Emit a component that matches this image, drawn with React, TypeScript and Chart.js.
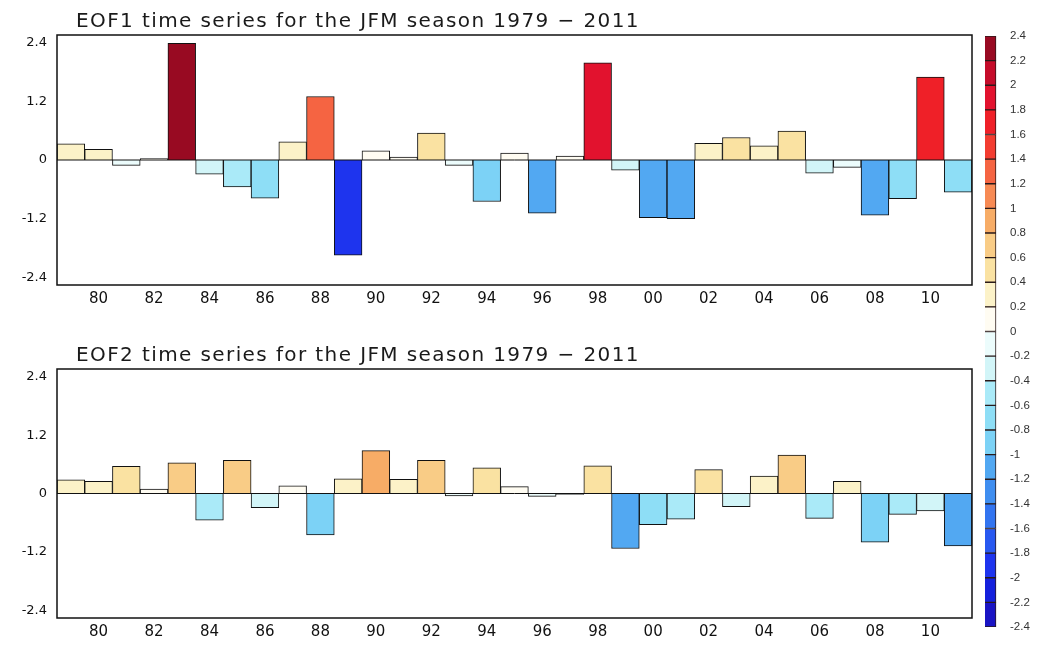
import React, { useEffect, useRef } from 'react';
import { Chart, registerables } from 'chart.js';

Chart.register(...registerables);

const years = [
  1979, 1980, 1981, 1982, 1983, 1984, 1985, 1986, 1987, 1988, 1989,
  1990, 1991, 1992, 1993, 1994, 1995, 1996, 1997, 1998, 1999, 2000,
  2001, 2002, 2003, 2004, 2005, 2006, 2007, 2008, 2009, 2010, 2011,
];

const eof1 = [
  0.33, 0.22, -0.11, 0.03, 2.39, -0.29, -0.55, -0.78, 0.37, 1.3, -1.95,
  0.19, 0.06, 0.55, -0.11, -0.85, 0.14, -1.09, 0.08, 1.99, -0.21, -1.18,
  -1.2, 0.34, 0.46, 0.29, 0.59, -0.27, -0.15, -1.13, -0.79, 1.7, -0.66,
];

const eof2 = [
  0.28, 0.25, 0.56, 0.09, 0.63, -0.55, 0.68, -0.29, 0.16, -0.85, 0.3,
  0.88, 0.29, 0.68, -0.05, 0.53, 0.14, -0.06, -0.02, 0.57, -1.13, -0.64,
  -0.53, 0.49, -0.27, 0.36, 0.79, -0.51, 0.25, -1.0, -0.43, -0.36, -1.08,
];

const xTickYears = [1980, 1982, 1984, 1986, 1988, 1990, 1992, 1994, 1996, 1998, 2000, 2002, 2004, 2006, 2008, 2010];
const yTickValues = [-2.4, -1.2, 0, 1.2, 2.4];

const levels = [
  -2.4, -2.2, -2.0, -1.8, -1.6, -1.4, -1.2, -1.0, -0.8, -0.6, -0.4, -0.2, 0,
  0.2, 0.4, 0.6, 0.8, 1.0, 1.2, 1.4, 1.6, 1.8, 2.0, 2.2, 2.4,
];

const levelColors = [
  '#1a14c4', '#1420dc', '#1e34ee', '#2858f0', '#3274f0', '#3f8ef0',
  '#52a8f2', '#7cd2f6', '#8edef6', '#aaeaf8', '#d2f5f8', '#ecfcfc',
  '#fffcf2', '#fcf2c8', '#fae2a2', '#f9cc86', '#f7ac66', '#f78a54',
  '#f56442', '#f33c30', '#ef2028', '#e2122e', '#c50c2a', '#980a22',
];

function colorFor(v: number): string {
  let i = Math.floor((v - levels[0]) / 0.2 + 1e-9);
  if (i < 0) i = 0;
  if (i > levelColors.length - 1) i = levelColors.length - 1;
  return levelColors[i];
}

const FONT = '"DejaVu Sans", "Liberation Sans", sans-serif';

const framePlugin = {
  id: 'frameAndTitle',
  afterDatasetsDraw(chart: any, _args: any, opts: any) {
    const { ctx, chartArea: a } = chart;
    const y0 = chart.scales.y.getPixelForValue(0);
    ctx.save();
    ctx.strokeStyle = '#111';
    ctx.lineWidth = 1;
    ctx.beginPath();
    ctx.moveTo(a.left, y0);
    ctx.lineTo(a.right, y0);
    ctx.stroke();
    ctx.lineWidth = 1.5;
    ctx.strokeRect(a.left, a.top, a.right - a.left, a.bottom - a.top);
    if (opts && opts.text) {
      ctx.fillStyle = '#1a1a1a';
      ctx.font = `20px ${FONT}`;
      ctx.textBaseline = 'alphabetic';
      ctx.textAlign = 'left';
      (ctx as any).letterSpacing = '1.4px';
      ctx.fillText(opts.text, opts.x, opts.y);
    }
    ctx.restore();
  },
};

function makeBarChart(canvas: HTMLCanvasElement, values: number[], title: string, padTop: number, xAxisH: number, titleY: number) {
  return new Chart(canvas, {
    type: 'bar',
    data: {
      datasets: [
        {
          data: years.map((yr, i) => ({ x: yr, y: values[i] })),
          backgroundColor: values.map(colorFor),
          borderColor: '#111',
          borderWidth: 1,
          barPercentage: 1,
          categoryPercentage: 1,
        } as any,
      ],
    },
    options: {
      responsive: false,
      animation: false,
      devicePixelRatio: 1,
      layout: { padding: { top: padTop, left: 0, right: 8, bottom: 0 } },
      plugins: {
        legend: { display: false },
        tooltip: { enabled: false },
        frameAndTitle: { text: title, x: 76, y: titleY },
      } as any,
      scales: {
        x: {
          type: 'linear',
          offset: false,
          min: 1978.5,
          max: 2011.5,
          afterBuildTicks: (s: any) => {
            s.ticks = xTickYears.map((v) => ({ value: v }));
          },
          afterFit: (s: any) => {
            s.height = xAxisH;
          },
          ticks: {
            autoSkip: false,
            maxRotation: 0,
            padding: 5,
            color: '#111',
            font: { family: FONT, size: 15 },
            callback: (v: any) => String(Number(v) % 100).padStart(2, '0'),
          },
          grid: { display: false, drawTicks: false },
          border: { display: false },
        },
        y: {
          min: -2.56,
          max: 2.56,
          afterBuildTicks: (s: any) => {
            s.ticks = yTickValues.map((v) => ({ value: v }));
          },
          afterFit: (s: any) => {
            s.width = 57;
          },
          ticks: {
            padding: 10,
            color: '#111',
            font: { family: FONT, size: 13 },
            callback: (v: any) => (Number(v) === 0 ? '0' : Number(v).toFixed(1)),
          },
          grid: { display: false, drawTicks: false },
          border: { display: false },
        },
      },
    } as any,
    plugins: [framePlugin],
  });
}

function makeColorbar(canvas: HTMLCanvasElement) {
  return new Chart(canvas, {
    type: 'bar',
    data: {
      labels: ['cb'],
      datasets: levelColors.map((c, i) => ({
        data: [[levels[i], levels[i + 1]]],
        backgroundColor: c,
        borderColor: '#2a1a1a',
        borderWidth: 1,
        borderSkipped: false,
        grouped: false,
        barPercentage: 1,
        categoryPercentage: 1,
      })) as any,
    },
    options: {
      responsive: false,
      animation: false,
      devicePixelRatio: 1,
      layout: { padding: { top: 36, left: 10, right: 0, bottom: 21 } },
      plugins: { legend: { display: false }, tooltip: { enabled: false } },
      scales: {
        x: { display: false, offset: false },
        y: {
          position: 'right',
          min: -2.4,
          max: 2.4,
          afterFit: (s: any) => {
            s.width = 34;
          },
          ticks: {
            stepSize: 0.2,
            autoSkip: false,
            padding: 3,
            color: '#333',
            font: { family: '"Liberation Sans", Arial, sans-serif', size: 11.5 },
            callback: (v: any) => String(Math.round(Number(v) * 10) / 10),
          },
          grid: { display: false, drawTicks: false },
          border: { display: false },
        },
      },
    } as any,
  });
}

export default function App() {
  const topRef = useRef<HTMLCanvasElement>(null);
  const botRef = useRef<HTMLCanvasElement>(null);
  const cbRef = useRef<HTMLCanvasElement>(null);

  useEffect(() => {
    const charts: Chart[] = [];
    if (topRef.current) charts.push(makeBarChart(topRef.current, eof1, 'EOF1 time series for the JFM season 1979 \u2212 2011', 35, 35, 27));
    if (botRef.current) charts.push(makeBarChart(botRef.current, eof2, 'EOF2 time series for the JFM season 1979 \u2212 2011', 39, 30, 31));
    if (cbRef.current) charts.push(makeColorbar(cbRef.current));
    return () => charts.forEach((c) => c.destroy());
  }, []);

  return (
    <div style={{ position: 'fixed', left: 0, top: 0, width: 1041, height: 648, background: '#fff', overflow: 'hidden' }}>
      <canvas ref={topRef} width={980} height={320} style={{ position: 'absolute', left: 0, top: 0, width: 980, height: 320 }} />
      <canvas ref={botRef} width={980} height={318} style={{ position: 'absolute', left: 0, top: 330, width: 980, height: 318 }} />
      <canvas ref={cbRef} width={66} height={648} style={{ position: 'absolute', left: 975, top: 0, width: 66, height: 648 }} />
    </div>
  );
}
